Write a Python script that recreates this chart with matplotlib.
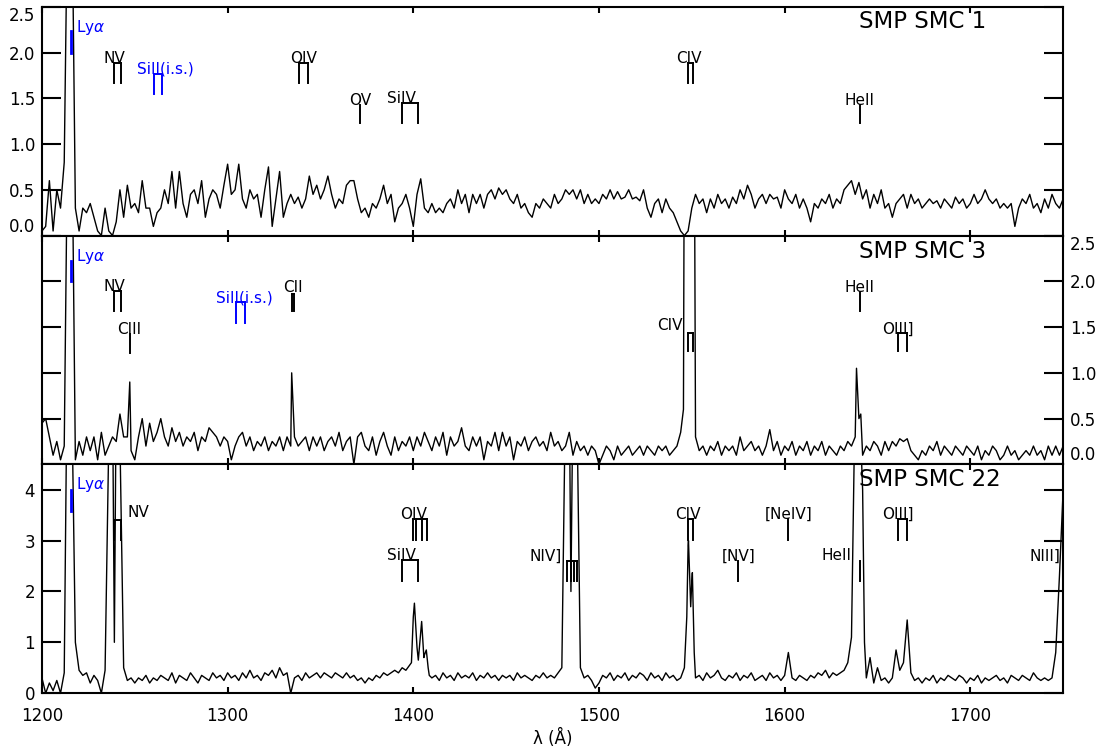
import matplotlib
matplotlib.use("Agg")
import matplotlib.pyplot as plt
from matplotlib.ticker import FormatStrFormatter
import numpy as np

# UV spectra of three SMC planetary nebulae, sampled every 2 A from 1200 to 1750 A
smc1 = [
    0.05, 0.1, 0.6, 0.05, 0.5, 0.3, 0.8, 4.0, 4.0, 0.3, 0.05, 0.3, 0.25, 0.35, 0.2, 0.05, 0.0, 0.3, 0.05, 0.0, 0.15, 0.5, 0.2, 0.55, 0.3,
    0.35, 0.25, 0.6, 0.3, 0.3, 0.1, 0.25, 0.3, 0.5, 0.35, 0.7, 0.3, 0.7, 0.35, 0.2, 0.45, 0.5, 0.35, 0.6, 0.2, 0.4, 0.5, 0.45, 0.3, 0.55,
    0.78, 0.45, 0.5, 0.78, 0.4, 0.3, 0.5, 0.4, 0.45, 0.2, 0.5, 0.75, 0.1, 0.4, 0.7, 0.2, 0.35, 0.45, 0.35, 0.42, 0.3, 0.4, 0.65, 0.45, 0.55,
    0.4, 0.5, 0.65, 0.45, 0.3, 0.4, 0.35, 0.55, 0.6, 0.6, 0.4, 0.25, 0.3, 0.2, 0.35, 0.3, 0.4, 0.55, 0.35, 0.45, 0.15, 0.3, 0.35, 0.45, 0.3,
    0.1, 0.45, 0.62, 0.3, 0.25, 0.35, 0.25, 0.3, 0.25, 0.35, 0.4, 0.3, 0.5, 0.35, 0.45, 0.25, 0.45, 0.35, 0.45, 0.3, 0.45, 0.5, 0.4, 0.52, 0.45,
    0.5, 0.4, 0.35, 0.45, 0.3, 0.35, 0.25, 0.2, 0.35, 0.3, 0.4, 0.35, 0.3, 0.45, 0.35, 0.4, 0.5, 0.45, 0.5, 0.4, 0.5, 0.35, 0.45, 0.35, 0.4,
    0.35, 0.45, 0.4, 0.5, 0.4, 0.48, 0.4, 0.42, 0.5, 0.4, 0.42, 0.38, 0.5, 0.3, 0.2, 0.35, 0.4, 0.25, 0.4, 0.3, 0.25, 0.15, 0.05, 0.0, 0.05,
    0.3, 0.45, 0.35, 0.4, 0.25, 0.4, 0.3, 0.45, 0.35, 0.4, 0.3, 0.42, 0.35, 0.5, 0.4, 0.55, 0.45, 0.3, 0.4, 0.45, 0.35, 0.45, 0.4, 0.42, 0.3,
    0.5, 0.4, 0.35, 0.45, 0.3, 0.4, 0.3, 0.15, 0.35, 0.3, 0.4, 0.35, 0.45, 0.3, 0.4, 0.35, 0.5, 0.55, 0.6, 0.45, 0.58, 0.4, 0.5, 0.3, 0.45,
    0.35, 0.5, 0.3, 0.35, 0.2, 0.35, 0.4, 0.45, 0.3, 0.45, 0.35, 0.4, 0.3, 0.35, 0.4, 0.35, 0.38, 0.3, 0.4, 0.35, 0.3, 0.42, 0.35, 0.4, 0.3,
    0.35, 0.45, 0.35, 0.4, 0.5, 0.4, 0.35, 0.4, 0.3, 0.35, 0.3, 0.35, 0.1, 0.3, 0.4, 0.35, 0.45, 0.3, 0.35, 0.25, 0.4, 0.3, 0.45, 0.35, 0.3,
    0.4,
]
smc3 = [
    0.45, 0.5, 0.3, 0.1, 0.25, 0.05, 0.2, 4.0, 4.0, 0.05, 0.25, 0.1, 0.3, 0.15, 0.3, 0.05, 0.35, 0.1, 0.2, 0.3, 0.25, 0.55, 0.3, 0.3, 0.15,
    0.05, 0.3, 0.5, 0.2, 0.45, 0.25, 0.35, 0.5, 0.3, 0.2, 0.4, 0.25, 0.35, 0.2, 0.3, 0.25, 0.35, 0.15, 0.3, 0.25, 0.4, 0.35, 0.3, 0.2, 0.3,
    0.25, 0.05, 0.2, 0.3, 0.35, 0.2, 0.3, 0.15, 0.25, 0.2, 0.3, 0.15, 0.25, 0.2, 0.3, 0.15, 0.3, 0.2, 0.3, 0.2, 0.25, 0.3, 0.15, 0.3, 0.2,
    0.3, 0.15, 0.25, 0.3, 0.2, 0.35, 0.15, 0.25, 0.3, 0.0, 0.3, 0.35, 0.2, 0.15, 0.3, 0.1, 0.25, 0.35, 0.2, 0.1, 0.3, 0.15, 0.25, 0.2, 0.3,
    0.15, 0.3, 0.2, 0.35, 0.25, 0.15, 0.3, 0.2, 0.35, 0.1, 0.3, 0.2, 0.25, 0.4, 0.2, 0.15, 0.3, 0.2, 0.3, 0.05, 0.25, 0.2, 0.35, 0.15, 0.35,
    0.2, 0.3, 0.05, 0.25, 0.2, 0.3, 0.15, 0.25, 0.3, 0.2, 0.25, 0.15, 0.35, 0.2, 0.25, 0.15, 0.2, 0.35, 0.1, 0.25, 0.15, 0.2, 0.1, 0.2, 0.15,
    0.0, 0.1, 0.2, 0.15, 0.05, 0.2, 0.1, 0.15, 0.2, 0.1, 0.15, 0.2, 0.1, 0.2, 0.15, 0.1, 0.2, 0.15, 0.2, 0.1, 0.15, 0.2, 0.35, 4.0, 4.0,
    4.0, 0.3, 0.15, 0.2, 0.1, 0.2, 0.15, 0.25, 0.1, 0.2, 0.15, 0.2, 0.1, 0.3, 0.15, 0.2, 0.25, 0.15, 0.2, 0.1, 0.2, 0.38, 0.15, 0.25, 0.1,
    0.2, 0.15, 0.25, 0.1, 0.2, 0.15, 0.25, 0.1, 0.2, 0.15, 0.25, 0.1, 0.2, 0.15, 0.1, 0.2, 0.15, 0.25, 0.2, 0.3, 0.5, 0.1, 0.2, 0.15, 0.25,
    0.2, 0.1, 0.25, 0.15, 0.25, 0.2, 0.28, 0.25, 0.28, 0.15, 0.1, 0.05, 0.15, 0.1, 0.2, 0.15, 0.25, 0.1, 0.2, 0.15, 0.1, 0.2, 0.15, 0.1, 0.2,
    0.15, 0.1, 0.2, 0.05, 0.15, 0.1, 0.2, 0.15, 0.05, 0.1, 0.2, 0.1, 0.15, 0.05, 0.1, 0.15, 0.1, 0.2, 0.1, 0.15, 0.05, 0.2, 0.1, 0.2, 0.1,
    0.2,
]
smc22 = [
    0.3, 0.0, 0.2, 0.05, 0.25, 0.0, 0.4, 8.0, 6.0, 1.0, 0.45, 0.35, 0.4, 0.2, 0.35, 0.25, 0.0, 0.45, 5.0, 6.0, 6.0, 5.0, 0.5, 0.25, 0.3,
    0.2, 0.3, 0.25, 0.35, 0.2, 0.3, 0.25, 0.35, 0.3, 0.25, 0.4, 0.2, 0.35, 0.3, 0.25, 0.4, 0.3, 0.2, 0.35, 0.3, 0.25, 0.4, 0.3, 0.35, 0.25,
    0.4, 0.3, 0.35, 0.25, 0.4, 0.3, 0.45, 0.3, 0.35, 0.25, 0.4, 0.35, 0.45, 0.3, 0.5, 0.35, 0.4, 0.0, 0.3, 0.35, 0.25, 0.4, 0.3, 0.35, 0.4,
    0.3, 0.4, 0.35, 0.3, 0.4, 0.35, 0.3, 0.4, 0.3, 0.35, 0.25, 0.3, 0.2, 0.3, 0.25, 0.35, 0.3, 0.4, 0.35, 0.4, 0.45, 0.4, 0.5, 0.45, 0.55,
    1.5, 0.9, 1.2, 0.75, 0.5, 0.3, 0.35, 0.25, 0.4, 0.3, 0.35, 0.25, 0.4, 0.3, 0.35, 0.3, 0.4, 0.25, 0.35, 0.3, 0.4, 0.3, 0.35, 0.25, 0.35,
    0.3, 0.35, 0.25, 0.4, 0.3, 0.35, 0.3, 0.25, 0.35, 0.3, 0.4, 0.3, 0.35, 0.3, 0.4, 0.5, 6.0, 6.0, 6.0, 6.0, 0.5, 0.3, 0.35, 0.25, 0.1,
    0.2, 0.35, 0.3, 0.4, 0.25, 0.35, 0.3, 0.4, 0.25, 0.35, 0.3, 0.4, 0.35, 0.25, 0.4, 0.3, 0.35, 0.25, 0.4, 0.3, 0.35, 0.25, 0.3, 0.5, 2.9,
    2.2, 0.3, 0.35, 0.25, 0.4, 0.3, 0.35, 0.45, 0.3, 0.25, 0.35, 0.3, 0.4, 0.25, 0.35, 0.3, 0.4, 0.25, 0.3, 0.35, 0.25, 0.4, 0.3, 0.35, 0.25,
    0.35, 0.8, 0.3, 0.25, 0.35, 0.3, 0.25, 0.35, 0.3, 0.4, 0.35, 0.45, 0.3, 0.4, 0.35, 0.4, 0.45, 0.6, 1.1, 6.0, 6.0, 4.0, 0.3, 0.7, 0.2,
    0.5, 0.25, 0.3, 0.2, 0.3, 0.85, 0.45, 0.6, 1.44, 0.4, 0.25, 0.3, 0.2, 0.3, 0.25, 0.35, 0.2, 0.3, 0.25, 0.35, 0.3, 0.25, 0.35, 0.3, 0.2,
    0.3, 0.25, 0.35, 0.2, 0.3, 0.25, 0.3, 0.35, 0.25, 0.3, 0.2, 0.35, 0.3, 0.25, 0.35, 0.3, 0.25, 0.4, 0.3, 0.25, 0.3, 0.25, 0.3, 0.8, 2.3,
    4.0,
]

# extra samples on the narrow emission lines
smc3_peak_w = [1247.3, 1334.5, 1545.5, 1551.5, 1638.7, 1641.0]
smc3_peak_f = [0.9, 1.0, 0.6, 3.0, 1.05, 0.55]
smc22_peak_w = [1239.0, 1399.0, 1400.6, 1402.7, 1404.5, 1405.7, 1407.0, 1408.6,
                1484.9, 1547.3, 1548.2, 1549.4, 1550.3, 1551.3, 1643.0]
smc22_peak_f = [1.0, 0.6, 1.77, 0.65, 1.41, 0.7, 0.85, 0.35,
                2.0, 1.5, 3.0, 1.7, 2.37, 0.8, 1.0]

names = ["SMP SMC 1", "SMP SMC 3", "SMP SMC 22"]

# line identifications: label, wavelengths, marker top/bottom, label x/y, alignment, colour
ids1 = [
    ("NV", [1238.8, 1242.8], 1.89, 1.67, 1238.8, 1.89, "center", "baseline", "k"),
    ("SiII(i.s.)", [1260.4, 1264.7], 1.77, 1.55, 1266.5, 1.77, "center", "baseline", "b"),
    ("OIV", [1338.6, 1343.5], 1.89, 1.67, 1341.0, 1.89, "center", "baseline", "k"),
    ("OV", [1371.3], 1.43, 1.23, 1371.3, 1.43, "center", "baseline", "k"),
    ("SiIV", [1393.8, 1402.8], 1.45, 1.23, 1393.8, 1.45, "center", "baseline", "k"),
    ("CIV", [1548.2, 1550.8], 1.89, 1.67, 1548.4, 1.89, "center", "baseline", "k"),
    ("HeII", [1640.4], 1.43, 1.23, 1640.5, 1.43, "center", "baseline", "k"),
]
ids3 = [
    ("NV", [1238.8, 1242.8], 1.895, 1.68, 1238.8, 1.895, "center", "baseline", "k"),
    ("CIII", [1247.4], 1.42, 1.22, 1247.1, 1.42, "center", "baseline", "k"),
    ("SiII(i.s.)", [1304.4, 1309.3], 1.77, 1.55, 1309.2, 1.77, "center", "baseline", "b"),
    ("CII", [1334.5, 1335.7], 1.86, 1.68, 1335.0, 1.88, "center", "baseline", "k"),
    ("CIV", [1548.2, 1550.8], 1.44, 1.24, 1545.1, 1.52, "right", "center", "k"),
    ("HeII", [1640.4], 1.88, 1.68, 1640.5, 1.88, "center", "baseline", "k"),
    ("OIII]", [1660.8, 1666.1], 1.43, 1.24, 1660.9, 1.43, "center", "baseline", "k"),
]
ids22 = [
    ("NV", [1238.8, 1242.8], 3.41, 3.02, 1245.9, 3.55, "left", "center", "k"),
    ("OIV", [1399.8, 1401.2, 1404.8, 1407.4], 3.42, 3.02, 1399.9, 3.42, "center", "baseline", "k"),
    ("SiIV", [1393.8, 1402.8], 2.61, 2.21, 1393.8, 2.61, "center", "baseline", "k"),
    ("NIV]", [1483.0, 1484.8, 1486.6, 1488.0], 2.6, 2.2, 1479.9, 2.7, "right", "center", "k"),
    ("CIV", [1548.2, 1550.8], 3.42, 3.02, 1548.0, 3.42, "center", "baseline", "k"),
    ("[NV]", [1574.8], 2.6, 2.2, 1575.0, 2.6, "center", "baseline", "k"),
    ("[NeIV]", [1601.7], 3.42, 3.02, 1602.0, 3.42, "center", "baseline", "k"),
    ("HeII", [1640.4], 2.6, 2.2, 1636.2, 2.7, "right", "center", "k"),
    ("OIII]", [1660.8, 1666.1], 3.42, 3.02, 1660.9, 3.42, "center", "baseline", "k"),
    ("NIII]", [], 2.6, 2.2, 1748.4, 2.7, "right", "center", "k"),
]

spectra = [smc1, smc3, smc22]
peaks = [([], []), (smc3_peak_w, smc3_peak_f), (smc22_peak_w, smc22_peak_f)]
ids = [ids1, ids3, ids22]
lya = [(2.0, 2.23, 2.27), (2.0, 2.22, 2.27), (3.58, 3.99, 4.1)]
title_y = [2.34, 2.33, 4.21]
ylims = [2.5, 2.5, 4.5]
yticks = [np.arange(0, 2.6, 0.5), np.arange(0, 2.6, 0.5), np.arange(0, 5, 1)]
yfmt = ["%.1f", "%.1f", "%d"]
label_side = ["left", "right", "left"]

fig, axes = plt.subplots(3, 1, sharex=True, figsize=(11.04, 7.51), dpi=100)
fig.subplots_adjust(left=0.038, right=0.963, bottom=0.077, top=0.991, hspace=0)

for i, ax in enumerate(axes):
    flux = np.array(spectra[i], dtype=float)
    wave = 1200 + 2 * np.arange(len(flux))
    pw, pf = peaks[i]
    w = np.concatenate([wave, pw])
    f = np.concatenate([flux, pf])
    order = np.argsort(w)
    ax.plot(w[order], f[order], color="k", lw=1.0)

    # line identification markers
    for lab, waves, top, bot, tx, ty, ha, va, col in ids[i]:
        for lw_ in waves:
            ax.plot([lw_, lw_], [bot, top], color=col, lw=1.4)
        if len(waves) > 1:
            ax.plot([min(waves), max(waves)], [top, top], color=col, lw=1.4)
        ax.text(tx, ty, lab, fontsize=11, ha=ha, va=va, color=col)

    lo, hi, ly = lya[i]
    ax.plot([1215.67, 1215.67], [lo, hi], color="b", lw=2)
    ax.text(1218.4, ly, r"Ly$\alpha$", fontsize=11, color="b", ha="left", va="center")

    ax.text(1640, title_y[i], names[i], fontsize=16.5, ha="left", va="center")

    ax.set_xlim(1200, 1750)
    ax.set_ylim(0, ylims[i])
    ax.set_yticks(yticks[i])
    ax.yaxis.set_major_formatter(FormatStrFormatter(yfmt[i]))
    ax.set_xticks(np.arange(1200, 1751, 100))
    ax.tick_params(axis="y", direction="in", length=14, width=1.5, left=True, right=True,
                   labelleft=label_side[i] == "left", labelright=label_side[i] == "right",
                   labelsize=12, pad=5)
    ax.tick_params(axis="x", direction="in", length=4, width=1.5, top=True, bottom=True,
                   labelsize=12, pad=10)
    for sp in ax.spines.values():
        sp.set_linewidth(1.5)
    if i < 2:
        labels = ax.get_yticklabels()
        labels[0].set_va("bottom")
        labels[-1].set_va("top")

axes[2].set_xlabel("λ (Å)", fontsize=12, labelpad=3)

fig.savefig("out.png", dpi=100)
